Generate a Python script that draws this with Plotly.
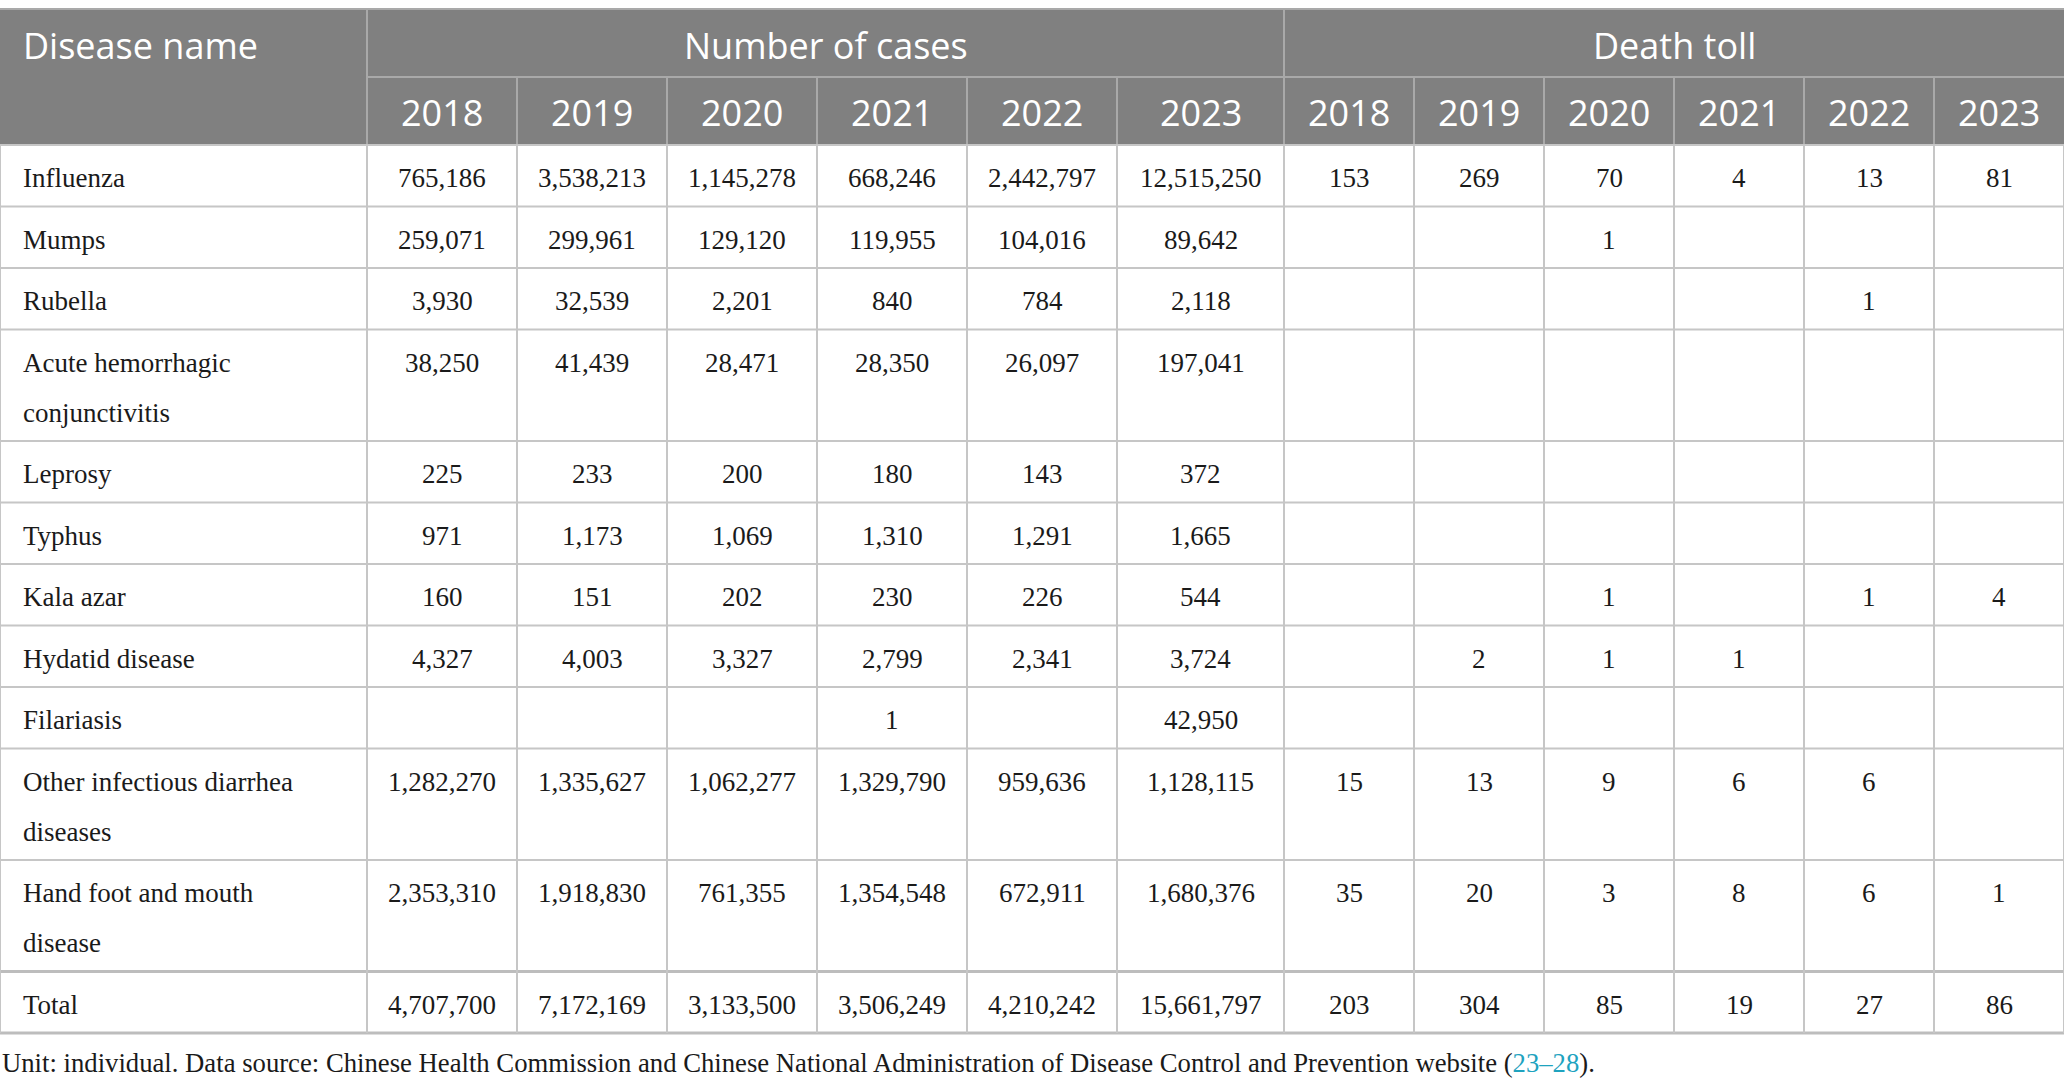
import plotly.graph_objects as go

# ── Data ────────────────────────────────────────────────────────────────
years = ["2018", "2019", "2020", "2021", "2022", "2023"]

diseases = [
    "Influenza", "Mumps", "Rubella", "Acute hemorrhagic\nconjunctivitis",
    "Leprosy", "Typhus", "Kala azar", "Hydatid disease", "Filariasis",
    "Other infectious diarrhea\ndiseases", "Hand foot and mouth\ndisease", "Total",
]

cases = [
    [765186, 3538213, 1145278, 668246, 2442797, 12515250],
    [259071, 299961, 129120, 119955, 104016, 89642],
    [3930, 32539, 2201, 840, 784, 2118],
    [38250, 41439, 28471, 28350, 26097, 197041],
    [225, 233, 200, 180, 143, 372],
    [971, 1173, 1069, 1310, 1291, 1665],
    [160, 151, 202, 230, 226, 544],
    [4327, 4003, 3327, 2799, 2341, 3724],
    [None, None, None, 1, None, 42950],
    [1282270, 1335627, 1062277, 1329790, 959636, 1128115],
    [2353310, 1918830, 761355, 1354548, 672911, 1680376],
    [4707700, 7172169, 3133500, 3506249, 4210242, 15661797],
]

deaths = [
    [153, 269, 70, 4, 13, 81],
    [None, None, 1, None, None, None],
    [None, None, None, None, 1, None],
    [None, None, None, None, None, None],
    [None, None, None, None, None, None],
    [None, None, None, None, None, None],
    [None, None, 1, None, 1, 4],
    [None, 2, 1, 1, None, None],
    [None, None, None, None, None, None],
    [15, 13, 9, 6, 6, None],
    [35, 20, 3, 8, 6, 1],
    [203, 304, 85, 19, 27, 86],
]

footnote = ("Unit: individual. Data source: Chinese Health Commission and Chinese "
            "National Administration of Disease Control and Prevention website (")
ref_text = "23–28"

# ── Layout constants (px) ───────────────────────────────────────────────
W, H = 2064, 1088
TOP = 9
HEAD_H = 68
ROW_H = 61.5
LINE_H = 50
col_w = [367] + [150, 150, 150, 150, 150, 167] + [130] * 6

HEAD_BG = "#808080"
HEAD_LINE = "#a9a9a9"
GRID = "#c6c6c6"
SERIF = "Liberation Serif"
SANS = "Open Sans"

edges = [0]
for w in col_w:
    edges.append(edges[-1] + w)

row_tops = [TOP + 2 * HEAD_H]
for name in diseases:
    n = name.count("\n") + 1
    row_tops.append(row_tops[-1] + ROW_H + (n - 1) * LINE_H)
table_bottom = row_tops[-1]

shapes = []
annotations = []


def hline(y, x0, x1, color, width):
    shapes.append(dict(type="line", x0=x0, x1=x1, y0=y, y1=y,
                       line=dict(color=color, width=width)))


def vline(x, y0, y1, color, width):
    shapes.append(dict(type="line", x0=x, x1=x, y0=y0, y1=y1,
                       line=dict(color=color, width=width)))


def text(x, y, s, anchor="center", size=27, color="#1a1a1a", family=SERIF):
    annotations.append(dict(x=x, y=y, text=s, showarrow=False, xanchor=anchor,
                            yanchor="middle", font=dict(size=size, color=color, family=family)))


# header block
shapes.append(dict(type="rect", x0=0, x1=W, y0=TOP, y1=TOP + 2 * HEAD_H,
                   fillcolor=HEAD_BG, line=dict(width=0), layer="below"))
hline(TOP, 0, W, HEAD_LINE, 2)
hline(TOP + HEAD_H, edges[1], W, HEAD_LINE, 2)
vline(edges[1], TOP, TOP + 2 * HEAD_H, HEAD_LINE, 2)
vline(edges[7], TOP, TOP + 2 * HEAD_H, HEAD_LINE, 2)
for i in list(range(2, 7)) + list(range(8, 13)):
    vline(edges[i], TOP + HEAD_H, TOP + 2 * HEAD_H, HEAD_LINE, 2)

text(21, TOP + HEAD_H / 2 + 2, "Disease name", anchor="left", size=36, color="white", family=SANS)
text((edges[1] + edges[7]) / 2, TOP + HEAD_H / 2 + 2, "Number of cases", size=36, color="white", family=SANS)
text((edges[7] + edges[13]) / 2, TOP + HEAD_H / 2 + 2, "Death toll", size=36, color="white", family=SANS)
for j, yr in enumerate(years * 2):
    cx = (edges[j + 1] + edges[j + 2]) / 2
    text(cx, TOP + HEAD_H * 1.5 + 1, yr, size=36, color="white", family=SANS)

# body grid
for k, y in enumerate(row_tops):
    heavy = k >= len(row_tops) - 2
    hline(y, 0, W, GRID if not heavy else "#bdbdbd", 3 if heavy else 2)
for x in edges:
    vline(x, row_tops[0], table_bottom, GRID, 2)

# body text
for r, name in enumerate(diseases):
    y0 = row_tops[r] + 33
    for li, part in enumerate(name.split("\n")):
        text(21, y0 + li * LINE_H, part, anchor="left")
    values = cases[r] + deaths[r]
    for j, v in enumerate(values):
        if v is None:
            continue
        cx = (edges[j + 1] + edges[j + 2]) / 2
        text(cx, y0, f"{v:,}")

# footnote
annotations.append(dict(
    x=0, y=table_bottom + 30, xanchor="left", yanchor="middle", showarrow=False,
    text=footnote + f"<span style='color:#1fa3bf'>{ref_text}</span>).",
    font=dict(size=26.7, color="#1a1a1a", family=SERIF),
))

fig = go.Figure()
fig.update_layout(
    width=W, height=H,
    margin=dict(l=0, r=0, t=0, b=0),
    paper_bgcolor="white", plot_bgcolor="white",
    xaxis=dict(range=[0, W], visible=False, fixedrange=True),
    yaxis=dict(range=[H, 0], visible=False, fixedrange=True),
    shapes=shapes,
    annotations=annotations,
    showlegend=False,
)

# drop the page's default body margin so the table sits flush at (0, 0)
fig.write_html("out.html", config={"displayModeBar": False},
               post_script="document.body.style.margin='0';")
